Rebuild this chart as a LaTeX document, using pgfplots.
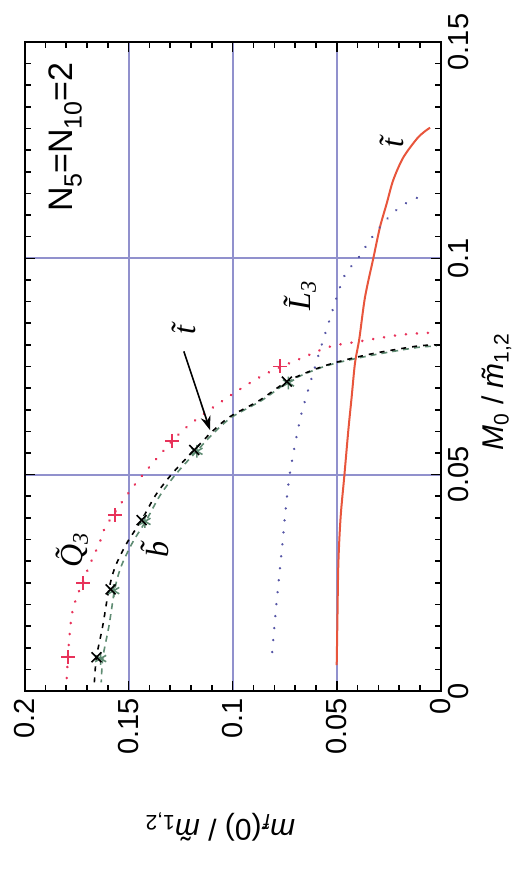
\documentclass[border=0pt]{standalone}
\usepackage{fontspec}
\setmainfont{Liberation Sans}
\newfontfamily\serifit{Liberation Serif}
\usepackage{pgfplots}
\pgfplotsset{compat=1.18}
\usetikzlibrary{arrows.meta}
\definecolor{gridc}{RGB}{145,145,205}
\definecolor{redc}{RGB}{232,85,60}
\definecolor{pinkc}{RGB}{232,50,90}
\definecolor{bluec}{RGB}{85,85,165}
\definecolor{greenc}{RGB}{95,140,115}
\newcommand{\tfont}{\fontsize{14.5}{17}\selectfont}
\newcommand{\lfont}{\fontsize{16}{19}\selectfont\serifit\itshape}
\newcommand{\tm}{\ooalign{\textit{m}\cr\hidewidth\kern0.12em\char"02DC\hidewidth\cr}}
\newcommand{\tf}{\ooalign{\textit{f}\cr\hidewidth\kern0.1em\char"02DC\hidewidth\cr}}
\newcommand{\sub}[1]{\raisebox{-0.28em}{\fontsize{12.5}{13}\selectfont #1}}
\begin{document}
\begin{tikzpicture}
\path[use as bounding box] (-12.35pt,-89.5pt) rectangle (251.65pt,345.5pt);
\begin{axis}[
  scale only axis, width=208pt, height=324.5pt,
  at={(0,0)}, anchor=south west,
  xmin=0, xmax=0.2, ymin=0, ymax=0.15,
  x dir=reverse,
  xtick={0,0.05,0.1,0.15,0.2}, xticklabels={0,0.05,0.1,0.15,0.2},
  ytick={0,0.05,0.1,0.15}, yticklabels={0,0.05,0.1,0.15},
  minor x tick num=4, minor y tick num=9,
  yticklabel pos=right,
  xticklabel style={rotate=90, anchor=east, font=\tfont},
  yticklabel style={rotate=90, anchor=north, font=\tfont},
  major tick length=5pt, minor tick length=3pt,
  tick style={black, line width=0.8pt},
  axis line style={line width=1pt},
  grid=major, major grid style={gridc, line width=1pt},
  clip=false,
]
% red solid (stop t)
\addplot[redc, line width=1pt, smooth] coordinates {
(0.0500,0.006) (0.0497,0.015) (0.0492,0.0295) (0.0481,0.0403) (0.0463,0.0499)
(0.0444,0.0603) (0.0428,0.068) (0.0412,0.0758) (0.0391,0.0815) (0.0364,0.091)
(0.0324,0.1) (0.0292,0.1072) (0.026,0.1126) (0.0228,0.1181) (0.018,0.1233)
(0.0115,0.1276) (0.008,0.1292) (0.0051,0.1302)};
% blue dotted (L3)
\addplot[bluec, line width=1.3pt, line cap=round, dash pattern=on 0.01pt off 6pt, smooth] coordinates {
(0.081,0.009) (0.079,0.02) (0.076,0.0345) (0.0749,0.0403) (0.0725,0.0503)
(0.0677,0.0626) (0.0637,0.0696) (0.058,0.0788) (0.054,0.0849) (0.05,0.091)
(0.046,0.0962) (0.0388,0.1006) (0.0348,0.1037) (0.0292,0.1072) (0.0236,0.1102)
(0.0172,0.1126) (0.0108,0.1141)};
% pink dotted (Q3)
\addplot[pinkc, line width=1.4pt, line cap=round, dash pattern=on 0.01pt off 5.5pt, smooth] coordinates {
(0.1798,0.003) (0.1785,0.0125) (0.1765,0.0195) (0.1694,0.0284) (0.1638,0.0345)
(0.1614,0.0377) (0.1526,0.0441) (0.143,0.0501) (0.1245,0.06) (0.1045,0.0672)
(0.0853,0.073) (0.0661,0.0771) (0.0532,0.0796) (0.0404,0.0807) (0.0196,0.0823)
(0.005,0.0828)};
\addplot[pinkc, only marks, mark=+, mark size=3.5pt, line width=0.9pt] coordinates {
(0.179,0.0078) (0.1718,0.0249) (0.1566,0.0407) (0.1293,0.0578) (0.0773,0.075)};
% green dashed
\addplot[greenc, line width=0.8pt, dash pattern=on 3pt off 2.5pt, dash phase=1.5pt, smooth] coordinates {
(0.1632,0.002) (0.1624,0.0078) (0.1595,0.015) (0.1567,0.0235) (0.1537,0.0287)
(0.1484,0.0341) (0.1415,0.0395) (0.1348,0.0453) (0.127,0.0503) (0.1168,0.0557)
(0.1086,0.0599) (0.1001,0.0634) (0.0859,0.0672) (0.0731,0.0715) (0.0606,0.0742)
(0.0494,0.0759) (0.032,0.0777) (0.0112,0.0794) (0.002,0.0797)};
% black dashed
\addplot[black, line width=0.8pt, dash pattern=on 2.5pt off 3pt, smooth] coordinates {
(0.1665,0.002) (0.1655,0.0078) (0.1625,0.015) (0.1595,0.0235) (0.1565,0.0287)
(0.151,0.0341) (0.1438,0.0395) (0.137,0.0453) (0.129,0.0503) (0.1185,0.0557)
(0.110,0.0599) (0.1013,0.0634) (0.087,0.0672) (0.074,0.0715) (0.0613,0.0742)
(0.05,0.076) (0.0324,0.078) (0.0115,0.0797) (0.002,0.080)};
\addplot[greenc, only marks, mark=asterisk, mark size=3.2pt, line width=0.8pt] coordinates {
(0.1635,0.0075) (0.1572,0.0232) (0.1422,0.0392) (0.1172,0.0554) (0.0732,0.0712)};
\addplot[black, only marks, mark=x, mark size=3.5pt, line width=0.8pt] coordinates {
(0.1655,0.0078) (0.1587,0.0235) (0.1438,0.0395) (0.1185,0.0557) (0.074,0.0715)};
% labels
\node[rotate=90, font=\fontsize{17}{20}\selectfont] at (axis cs:0.1806,0.128) {N\sub{5}=N\sub{10}=2};
\node[rotate=90, font=\lfont] at (axis cs:0.1773,0.0326) {\~{Q}\textsubscript{3}};
\node[rotate=90, font=\lfont] at (axis cs:0.1374,0.0328) {\~{b}};
\node[rotate=90, font=\lfont] at (axis cs:0.1235,0.0835) {\~{t}};
\node[rotate=90, font=\lfont] at (axis cs:0.0676,0.0915) {\~{L}\textsubscript{3}};
\node[rotate=90, font=\lfont] at (axis cs:0.0234,0.1266) {\~{t}};
\draw[black, line width=0.8pt, -{Stealth[length=7pt,width=5pt]}] (axis cs:0.1235,0.0785) -- (axis cs:0.1109,0.0603);
\end{axis}
\node[rotate=180, font=\fontsize{15}{18}\selectfont] at (97.6pt,-68pt) {\textit{m}\textsubscript{\tf}(0) / \tm\textsubscript{1,2}};
\node[rotate=90, font=\fontsize{15}{18}\selectfont] at (236pt,149.5pt) {\textit{M}\textsubscript{0} / \tm\textsubscript{1,2}};
\end{tikzpicture}
\end{document}
